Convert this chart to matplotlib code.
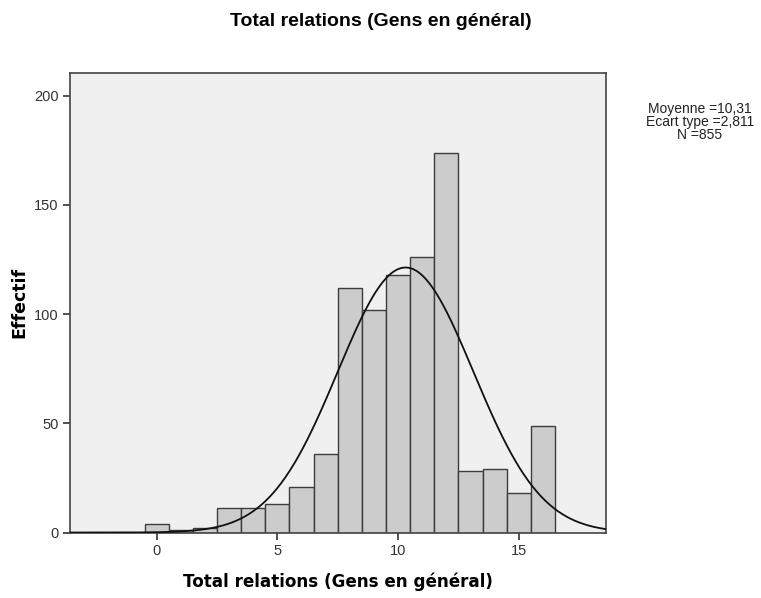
import numpy as np
import matplotlib
matplotlib.use("Agg")
import matplotlib.pyplot as plt

# Frequency of each integer score (bins of width 1 centred on the value)
scores = [0, 1, 2, 3, 4, 5, 6, 7, 8, 9, 10, 11, 12, 13, 14, 15, 16]
counts = [4, 1, 2, 11, 11, 13, 21, 36, 112, 102, 118, 126, 174, 28, 29, 18, 49]

mean = 10.31
std = 2.811
n = 855

title = "Total relations (Gens en général)"
xlabel = "Total relations (Gens en général)"
ylabel = "Effectif"
stats_lines = ["Moyenne =10,31", "Ecart type =2,811", "N =855"]
xticks = [0, 5, 10, 15]
yticks = [0, 50, 100, 150, 200]

fig = plt.figure(figsize=(7.61, 5.98), dpi=100)
ax = fig.add_axes([0.0926, 0.1095, 0.7043, 0.7684])
ax.set_facecolor("#f0f0f0")

ax.bar(scores, counts, width=1.0, color="#cccccc", edgecolor="#3c3c3c",
       linewidth=1.0, zorder=2)

# Normal curve scaled to counts (bin width 1)
xs = np.linspace(-3.6, 18.7, 500)
pdf = n / (std * np.sqrt(2 * np.pi)) * np.exp(-0.5 * ((xs - mean) / std) ** 2)
ax.plot(xs, pdf, color="#111111", linewidth=1.3, zorder=3)

ax.set_xlim(-3.57, 18.63)
ax.set_ylim(0, 210.4)
ax.set_xticks(xticks)
ax.set_yticks(yticks)
ax.tick_params(direction="out", length=5, width=1.2, color="#333333",
               labelsize=10.5, labelcolor="#333333")
for lab in ax.get_xticklabels() + ax.get_yticklabels():
    lab.set_family("Liberation Sans")
for sp in ax.spines.values():
    sp.set_color("#444444")
    sp.set_linewidth(1.2)

fig.text(381 / 761, 1 - 21 / 598, title, ha="center", va="center",
         fontsize=14, fontweight="bold", family="Liberation Sans")
ax.set_xlabel(xlabel, fontsize=12.1, fontweight="bold", family="DejaVu Sans",
              labelpad=10)
ax.set_ylabel(ylabel, fontsize=12.5, fontweight="bold", family="DejaVu Sans",
              labelpad=4)

fig.text(700 / 761, 1 - 122 / 598, "\n".join(stats_lines), ha="center",
         va="center", fontsize=10, family="Liberation Sans", linespacing=0.92,
         color="#222222")

fig.savefig("out.png", dpi=100, facecolor="white")
